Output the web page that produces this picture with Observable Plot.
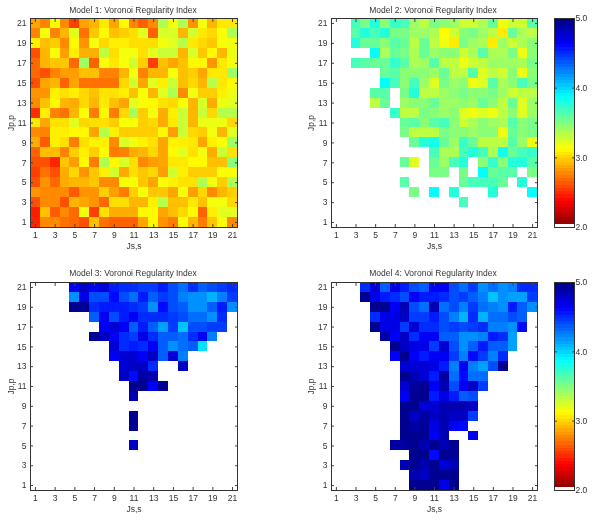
<!DOCTYPE html>
<html>
<head>
<meta charset="utf-8">
<script src="https://cdn.jsdelivr.net/npm/d3@7"></script>
<script src="https://cdn.jsdelivr.net/npm/@observablehq/plot@0.6"></script>
<style>
html,body{margin:0;padding:0;background:#fff;width:600px;height:523px;overflow:hidden}
#root{position:relative;width:600px;height:523px;font-family:"Liberation Sans",Arial,sans-serif;filter:blur(0.5px)}
.p{position:absolute}
.t{position:absolute;font-size:8.5px;color:#333;text-align:center;white-space:nowrap;transform:translateX(-50%)}
</style>
</head>
<body>
<div id="root"></div>
<script>
const N = null;
const gridValues = d3.range(1, 22);
const oddTicks = [1,3,5,7,9,11,13,15,17,19,21];
const colorStops = [2, 2.375, 3.125, 3.5, 3.875, 4.625, 5];
const colorRange = ["#800000","#ff0000","#ffff00","#80ff80","#00ffff","#0000ff","#000080"];
const barTicks = [2,3,4,5];
const titles = ["Model 1: Voronoi Regularity Index","Model 2: Voronoi Regularity Index","Model 3: Voronoi Regularity Index","Model 4: Voronoi Regularity Index"];

// rows run from Jp,p = 21 (top) to Jp,p = 1 (bottom); columns Js,s = 1..21
const model1 = [
[2.86,2.76,3.11,2.78,2.56,2.86,2.91,3.06,2.86,3.11,2.76,2.66,2.78,3.36,3.16,3.36,2.81,3.16,2.91,3.06,3.06],
[2.76,3.16,2.76,2.91,3.21,2.71,2.96,3.11,2.94,2.98,3.03,3.21,2.66,3.24,3.24,2.91,3.26,3.06,3.01,3.14,3.36],
[3.08,2.94,2.98,2.78,3.11,2.81,3.16,3.01,3.08,3.08,3.03,3.03,3.03,3.16,3.21,3.34,3.06,3.01,2.96,3.14,3.16],
[2.61,2.91,3.14,2.84,3.08,2.89,2.89,3.31,3.03,3.16,3.16,3.03,3.21,3.28,3.28,2.91,3.24,2.96,3.11,2.91,3.18],
[2.68,2.91,2.96,2.96,2.68,3.41,2.66,3.14,3.06,3.14,3.26,2.98,2.56,2.94,2.86,2.94,3.11,3.11,2.81,3.06,3.16],
[2.68,2.61,2.76,2.84,2.84,2.94,2.94,2.76,2.76,2.91,3.16,2.76,2.91,2.91,3.14,2.94,2.98,2.86,3.06,3.06,3.41],
[2.61,2.86,2.91,2.66,2.86,2.71,2.71,2.71,2.71,3.01,3.26,2.86,3.21,3.08,3.28,2.94,3.01,2.91,3.34,3.06,3.11],
[2.81,2.81,3.08,3.04,3.08,3.01,2.94,3.04,3.04,3.08,2.94,3.14,2.91,3.21,3.36,2.78,3.16,2.98,2.98,3.08,3.18],
[2.78,2.94,3.11,2.91,2.88,3.01,2.91,3.06,2.94,2.86,3.21,3.14,3.11,3.04,3.01,3.14,2.91,3.24,2.88,3.18,3.21],
[2.51,3.08,2.76,2.71,2.91,3.14,2.74,3.11,2.74,3.01,3.39,2.98,3.16,2.88,3.08,3.28,2.91,3.28,3.01,3.34,3.34],
[3.06,2.86,3.04,3.04,3.21,3.01,3.03,3.03,2.98,3.14,3.14,2.98,3.01,2.88,3.06,3.28,2.91,3.18,3.18,3.18,3.01],
[2.78,2.76,3.08,3.08,3.11,3.11,2.86,3.34,3.08,2.98,2.98,2.98,2.98,3.11,2.84,3.28,3.01,2.98,3.16,2.91,3.21],
[2.88,2.64,3.08,3.03,2.74,3.03,3.09,3.08,2.78,3.24,3.16,3.09,3.04,2.86,3.09,3.08,3.06,2.86,3.08,3.14,3.41],
[2.66,2.93,2.93,2.76,2.98,3.08,2.98,3.11,2.74,2.76,2.88,2.91,3.01,2.86,3.11,3.21,3.04,3.16,2.88,3.28,3.04],
[2.61,2.61,2.48,2.96,2.84,3.11,2.74,3.36,3.11,3.24,3.03,2.78,2.84,2.86,3.06,3.06,3.11,3.11,2.94,2.94,3.48],
[2.56,2.71,2.61,2.88,3.01,2.81,2.96,3.08,3.26,2.88,3.03,2.96,3.01,2.84,3.26,3.08,2.98,2.98,2.98,3.14,3.14],
[2.61,2.81,2.68,2.88,2.91,2.91,2.96,2.78,2.78,3.14,3.14,2.96,2.86,3.14,3.08,3.04,3.04,3.36,3.16,2.98,3.36],
[2.81,2.78,2.78,2.78,2.64,2.81,2.81,2.98,2.84,2.74,2.98,3.14,2.96,2.96,2.86,3.14,2.84,3.01,2.78,2.91,2.98],
[2.61,2.78,2.78,2.61,2.91,2.86,2.81,2.68,3.03,3.03,2.91,2.91,3.08,3.34,2.94,2.94,3.06,2.94,3.16,3.16,3.01],
[2.46,2.94,2.64,2.78,2.68,3.16,2.56,3.04,2.88,2.88,2.88,3.11,3.11,2.86,2.94,3.01,3.11,2.66,3.08,3.21,3.21],
[2.48,2.78,2.78,2.71,2.68,2.61,2.94,2.71,2.66,2.66,2.66,2.86,3.11,2.81,2.74,3.14,2.91,2.74,2.96,3.14,2.78]
];
const model2 = [
[N,N,3.67,3.52,3.77,3.47,3.72,3.67,3.42,3.32,3.52,3.47,3.42,3.27,3.27,3.37,3.57,3.17,3.27,3.27,3.62],
[N,N,3.62,3.77,3.67,3.77,3.52,3.52,3.42,3.42,3.37,3.12,3.27,3.47,3.52,3.42,3.32,3.07,3.57,3.37,3.32],
[N,N,3.77,3.57,3.57,3.47,3.62,3.57,3.32,3.57,3.32,3.17,3.07,3.52,3.42,3.37,3.07,3.42,3.27,3.37,3.47],
[N,N,N,N,3.87,3.37,3.57,3.52,3.37,3.57,3.42,3.47,3.47,3.27,3.37,3.62,3.37,3.37,3.52,3.17,3.47],
[N,N,3.67,3.62,3.57,3.57,3.72,3.62,3.37,3.42,3.62,3.32,3.32,3.17,3.27,3.32,3.42,3.42,3.42,3.37,3.52],
[N,N,N,N,N,3.57,3.62,3.47,3.47,3.47,3.42,3.57,3.32,3.32,3.62,3.22,3.32,3.27,3.47,3.17,3.47],
[N,N,N,N,N,3.87,3.67,3.47,3.67,3.42,3.22,3.52,3.42,3.47,3.17,3.22,3.62,3.37,3.47,3.67,3.52],
[N,N,N,N,3.62,3.62,N,3.52,3.77,3.32,3.32,3.42,3.47,3.52,3.47,3.47,3.52,3.42,3.27,3.32,3.32],
[N,N,N,N,3.32,3.57,N,3.42,3.47,3.47,3.57,3.42,3.42,3.47,3.42,3.57,3.47,3.32,3.57,3.22,3.42],
[N,N,N,N,N,N,3.72,3.32,3.32,3.52,3.47,3.42,3.47,3.22,3.17,3.22,3.17,3.32,3.47,3.22,3.42],
[N,N,N,N,N,N,N,3.57,3.62,3.47,3.62,3.67,3.47,3.27,3.37,3.47,3.42,3.37,3.62,3.47,3.52],
[N,N,N,N,N,N,N,3.52,3.32,3.32,3.32,3.52,3.47,3.47,3.42,3.47,3.47,3.17,3.57,3.47,3.52],
[N,N,N,N,N,N,N,N,3.57,3.77,3.82,3.57,3.42,3.72,3.57,3.32,3.32,3.32,3.62,3.42,3.17],
[N,N,N,N,N,N,N,N,N,N,3.67,3.37,3.37,3.67,3.77,3.67,3.37,3.82,3.57,3.67,3.72],
[N,N,N,N,N,N,N,3.57,3.22,N,3.57,3.42,3.67,3.77,N,3.47,3.72,3.47,3.77,3.77,3.62],
[N,N,N,N,N,N,N,N,N,N,3.52,3.52,N,3.52,N,3.87,3.57,3.62,3.62,N,3.52],
[N,N,N,N,N,N,N,3.62,N,N,N,N,N,3.57,3.67,3.67,3.67,3.57,N,3.77,N],
[N,N,N,N,N,N,N,N,3.52,N,3.87,N,3.77,N,N,N,3.77,N,N,N,3.87],
[N,N,N,N,N,N,N,N,N,N,N,N,N,3.67,N,N,N,N,N,N,N],
[N,N,N,N,N,N,N,N,N,N,N,N,N,N,N,N,N,N,N,N,N],
[N,N,N,N,N,N,N,N,N,N,N,N,N,N,N,N,N,N,N,N,N]
];
const model3 = [
[N,N,N,N,4.65,4.8,4.65,4.75,4.55,4.5,4.5,4.45,4.45,4.55,4.4,4.3,4.5,4.35,4.4,4.45,4.5],
[N,N,N,N,4.2,4.7,4.4,4.4,4.6,4.4,4.3,4.55,4.35,4.45,4.4,4.25,4.2,4.2,4.1,4.25,4.45],
[N,N,N,N,4.95,4.95,4.5,4.55,4.55,4.55,4.5,4.45,4.2,4.6,4.4,4.35,4.2,4.2,4.35,4.55,4.2],
[N,N,N,N,N,N,4.35,4.65,4.4,4.55,4.65,4.5,4.5,4.5,4.45,4.4,4.3,4.3,4.2,4.5,N],
[N,N,N,N,N,N,N,4.65,4.75,4.65,4.35,4.55,4.35,4.15,4.45,4.05,4.4,4.4,4.45,4.45,N],
[N,N,N,N,N,N,4.95,4.8,4.65,4.5,4.45,4.7,4.5,4.35,4.35,4.3,4.5,4.65,4.25,N,N],
[N,N,N,N,N,N,N,N,4.75,4.5,4.55,4.5,4.65,4.35,4.2,4.3,4.35,3.95,N,N,N],
[N,N,N,N,N,N,N,N,4.65,4.75,4.75,4.65,4.8,4.35,4.75,4.25,N,N,N,N,N],
[N,N,N,N,N,N,N,N,N,4.75,4.8,4.8,4.5,N,N,4.8,N,N,N,N,N],
[N,N,N,N,N,N,N,N,N,4.8,4.6,4.9,4.85,N,N,N,N,N,N,N,N],
[N,N,N,N,N,N,N,N,N,N,4.95,4.95,4.65,4.95,N,N,N,N,N,N,N],
[N,N,N,N,N,N,N,N,N,N,4.85,N,N,N,N,N,N,N,N,N,N],
[N,N,N,N,N,N,N,N,N,N,N,N,N,N,N,N,N,N,N,N,N],
[N,N,N,N,N,N,N,N,N,N,4.95,N,N,N,N,N,N,N,N,N,N],
[N,N,N,N,N,N,N,N,N,N,4.95,N,N,N,N,N,N,N,N,N,N],
[N,N,N,N,N,N,N,N,N,N,N,N,N,N,N,N,N,N,N,N,N],
[N,N,N,N,N,N,N,N,N,N,4.8,N,N,N,N,N,N,N,N,N,N],
[N,N,N,N,N,N,N,N,N,N,N,N,N,N,N,N,N,N,N,N,N],
[N,N,N,N,N,N,N,N,N,N,N,N,N,N,N,N,N,N,N,N,N],
[N,N,N,N,N,N,N,N,N,N,N,N,N,N,N,N,N,N,N,N,N],
[N,N,N,N,N,N,N,N,N,N,N,N,N,N,N,N,N,N,N,N,N]
];
const model4 = [
[N,N,N,4.5,4.75,4.35,4.7,4.55,4.4,4.35,4.65,4.65,4.4,4.3,4.45,4.2,4.3,4.2,4.25,4.5,4.5],
[N,N,N,4.95,4.7,4.55,4.5,4.4,4.65,4.55,4.55,4.5,4.4,4.45,4.35,4.25,4.05,4.2,4.15,4.15,4.45],
[N,N,N,N,4.95,4.95,4.65,4.85,4.4,4.3,4.85,4.3,4.4,4.25,4.45,4.3,4.25,4.2,4.55,4.35,4.2],
[N,N,N,N,4.5,4.7,4.7,4.8,4.45,4.45,4.55,4.4,4.25,4.1,4.5,4.1,4.3,4.3,4.4,4.35,N],
[N,N,N,N,4.95,4.7,4.7,4.45,4.75,4.5,4.5,4.4,4.45,4.4,4.45,4.5,4.25,4.25,4.2,4.6,N],
[N,N,N,N,N,4.9,4.65,4.8,4.5,4.65,4.65,4.35,4.35,4.2,4.2,4.25,4.55,4.5,4.15,N,N],
[N,N,N,N,N,N,4.95,4.8,4.7,4.7,4.45,4.75,4.4,4.2,4.35,4.55,4.35,4.35,4.15,N,N],
[N,N,N,N,N,N,4.65,4.95,4.65,4.55,4.65,4.65,4.45,4.25,4.6,4.45,4.25,4.5,N,N,N],
[N,N,N,N,N,N,N,4.75,4.75,4.75,4.7,4.55,4.25,4.65,4.25,4.15,4.4,4.95,N,N,N],
[N,N,N,N,N,N,N,4.95,4.85,4.75,4.55,4.9,4.3,4.6,4.3,4.3,N,N,N,N,N],
[N,N,N,N,N,N,N,4.75,4.92,4.95,4.65,4.85,4.4,4.65,4.8,4.45,N,N,N,N,N],
[N,N,N,N,N,N,N,4.65,4.95,4.95,4.55,4.7,4.55,4.35,4.4,N,N,N,N,N,N],
[N,N,N,N,N,N,N,4.95,4.95,4.75,4.75,4.85,4.85,4.85,4.8,N,N,N,N,N,N],
[N,N,N,N,N,N,N,4.95,4.8,4.9,4.8,4.85,4.8,4.8,4.45,N,N,N,N,N,N],
[N,N,N,N,N,N,N,4.95,4.9,4.92,4.7,4.85,4.65,4.6,N,N,N,N,N,N,N],
[N,N,N,N,N,N,N,4.95,4.95,4.95,4.65,4.85,N,N,4.65,N,N,N,N,N,N],
[N,N,N,N,N,N,4.9,4.9,4.95,4.85,4.95,4.85,4.95,N,N,N,N,N,N,N,N],
[N,N,N,N,N,N,N,N,4.95,4.95,4.6,4.95,4.92,N,N,N,N,N,N,N,N],
[N,N,N,N,N,N,N,4.85,4.95,4.85,4.95,4.75,4.85,N,N,N,N,N,N,N,N],
[N,N,N,N,N,N,N,N,4.85,4.8,4.95,4.95,4.95,N,N,N,N,N,N,N,N],
[N,N,N,N,N,N,N,N,4.95,4.95,4.95,4.7,4.95,N,N,N,N,N,N,N,N]
];

const colorScale = {type:"linear", domain:colorStops, range:colorRange, interpolate:"rgb", clamp:true};
const root = document.getElementById("root");
const textStyle = {fontFamily:'"Liberation Sans",Arial,sans-serif', fontSize:"8.5px", background:"transparent", color:"#333", overflow:"visible"};

function toCells(matrix){
  const out = [];
  matrix.forEach((row,r)=>row.forEach((v,c)=>{ if(v!==null) out.push({js:c+1, jp:21-r, v}); }));
  return out;
}
function place(el,left,top){ el.classList.add("p"); el.style.left=left+"px"; el.style.top=top+"px"; root.appendChild(el); }

function heatmap(matrix, ml, mt, h, mb, xLabelOffset){
  return Plot.plot({
    width:250, height:h, marginLeft:ml, marginRight:13, marginTop:mt, marginBottom:mb,
    style:textStyle,
    x:{type:"band", domain:gridValues, padding:0, round:false, axis:null},
    y:{type:"band", domain:gridValues.slice().reverse(), padding:0, round:false, axis:null},
    color:colorScale,
    marks:[
      Plot.cell(toCells(matrix),{x:"js",y:"jp",fill:"v",shapeRendering:"crispEdges"}),
      Plot.axisX({anchor:"bottom",ticks:oddTicks,tickSize:-3,tickPadding:7,label:"Js,s",labelAnchor:"center",labelArrow:"none",labelOffset:xLabelOffset,stroke:"#444"}),
      Plot.axisX({anchor:"top",ticks:oddTicks,tickSize:-3,tickFormat:()=>"",label:null,stroke:"#444"}),
      Plot.axisY({anchor:"left",ticks:oddTicks,tickSize:-3,tickPadding:7,label:"Jp,p",labelAnchor:"center",labelArrow:"none",labelOffset:ml-7,stroke:"#444"}),
      Plot.axisY({anchor:"right",ticks:oddTicks,tickSize:-3,tickFormat:()=>"",label:null,stroke:"#444"}),
      Plot.frame({stroke:"#333",strokeWidth:1})
    ]
  });
}
function colorbar(mt, h, mb){
  const levels = d3.range(64).map(i=>({lo:2+i*3/64, hi:2+(i+1)*3/64, i}));
  return Plot.plot({
    width:60, height:h, marginLeft:14, marginRight:26, marginTop:mt, marginBottom:mb,
    style:textStyle,
    x:{domain:[0,1],axis:null},
    y:{domain:[2,5],axis:null},
    color:colorScale,
    marks:[
      Plot.rect(levels.filter(d=>d.i>0),{x1:0,x2:1,y1:"lo",y2:"hi",fill:d=>(d.lo+d.hi)/2,shapeRendering:"crispEdges"}),
      Plot.axisY({anchor:"right",ticks:barTicks,tickSize:-3,tickPadding:4,tickFormat:".1f",label:null,stroke:"#444"}),
      Plot.axisY({anchor:"left",ticks:barTicks,tickSize:-3,tickFormat:()=>"",label:null,stroke:"#444"}),
      Plot.frame({stroke:"#333",strokeWidth:1})
    ]
  });
}

place(heatmap(model1,30,18,255,28,21),0,0);
place(heatmap(model2,31,18,255,28,21),300,0);
place(heatmap(model3,30,20,261,33,21),0,262);
place(heatmap(model4,31,20,261,33,21),300,262);
place(colorbar(18,255,28),540,0);
place(colorbar(20,261,33),540,262);

[[133,5],[433,5],[133,268],[433,268]].forEach(([x,y],i)=>{
  const d=document.createElement("div"); d.className="t"; d.textContent=titles[i];
  d.style.left=x+"px"; d.style.top=y+"px"; root.appendChild(d);
});
</script>
</body>
</html>
